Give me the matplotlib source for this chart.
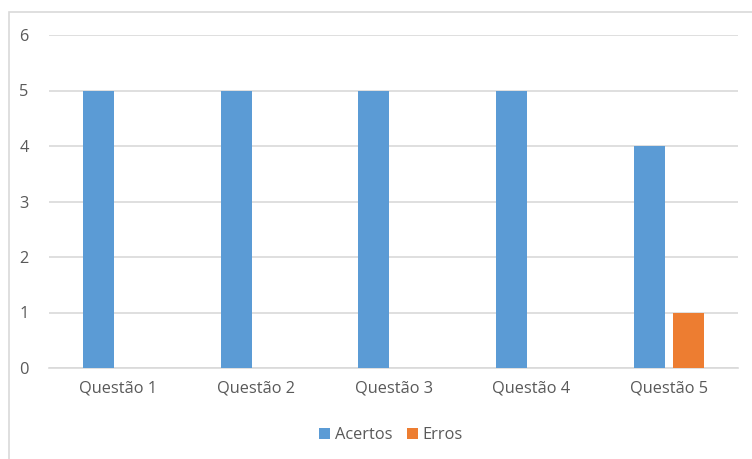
import matplotlib.pyplot as plt
import numpy as np
from matplotlib.patches import Rectangle

categories = ["Questão 1", "Questão 2", "Questão 3", "Questão 4", "Questão 5"]
acertos = [5, 5, 5, 5, 4]
erros = [0, 0, 0, 0, 1]

plt.rcParams["font.family"] = ["Open Sans", "DejaVu Sans"]
text_color = "#595959"

fig = plt.figure(figsize=(7.52, 4.59), dpi=100)
ax = fig.add_axes([49.5 / 752, 1 - 368 / 459, 688.5 / 752, 333 / 459])

x = np.arange(len(categories))
width = 0.225
ax.bar(x - 0.144, acertos, width, color="#5B9BD5", label="Acertos", zorder=3)
ax.bar(x + 0.144, erros, width, color="#ED7D31", label="Erros", zorder=3)

ax.set_xlim(-0.5, len(categories) - 0.5)
ax.set_ylim(0, 6)
ax.set_yticks(range(0, 7))
ax.set_xticks(x)
ax.set_xticklabels(categories)
ax.yaxis.grid(True, color="#D9D9D9", linewidth=1.2, zorder=0)
for side in ["top", "right", "left"]:
    ax.spines[side].set_visible(False)
ax.spines["bottom"].set_color("#D9D9D9")
ax.spines["bottom"].set_linewidth(1.2)
ax.tick_params(axis="both", length=0, labelsize=11.8, labelcolor=text_color)
ax.tick_params(axis="x", pad=9)
ax.tick_params(axis="y", pad=15)

leg = fig.legend(
    loc="center", bbox_to_anchor=(391 / 752, 1 - 435 / 459), ncol=2,
    frameon=False, fontsize=11.8, handlelength=0.65, handleheight=0.65,
    handletextpad=0.3, columnspacing=0.9,
)
for t in leg.get_texts():
    t.set_color(text_color)

fig.patches.append(Rectangle((9 / 752, -0.05), 1.1, 1 - 12 / 459 + 0.05,
                             transform=fig.transFigure, fill=False,
                             edgecolor="#D9D9D9", linewidth=1.2))

fig.savefig("out.png", dpi=100)
